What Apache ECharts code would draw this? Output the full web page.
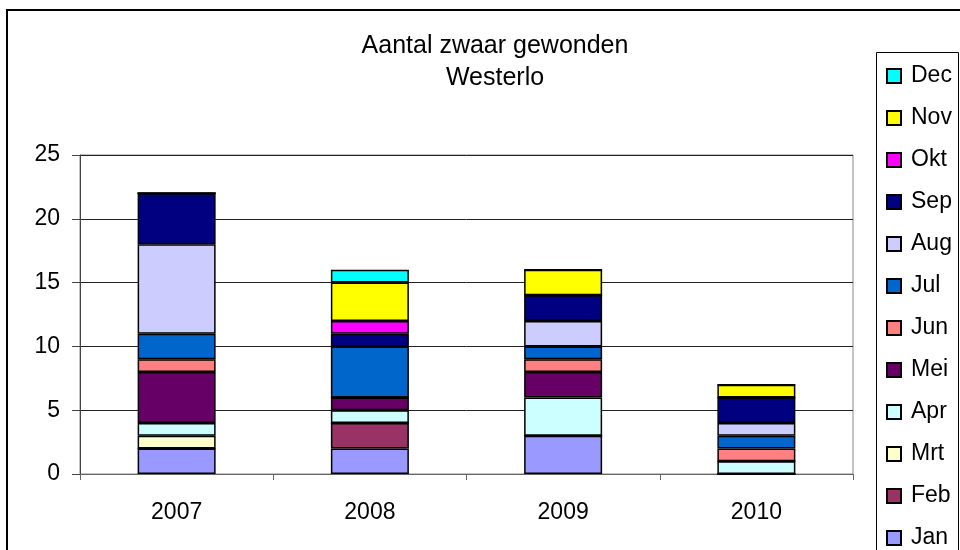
<!DOCTYPE html>
<html>
<head>
<meta charset="utf-8">
<title>Aantal zwaar gewonden - Westerlo</title>
<script src="https://cdn.jsdelivr.net/npm/echarts@6/dist/echarts.min.js"></script>
<style>
  html, body { margin: 0; padding: 0; background: #fff; }
  #chart { width: 960px; height: 550px; }
</style>
</head>
<body>
<div id="chart"></div>
<script>
// Years on the category axis
const years = ['2007', '2008', '2009', '2010'];

// Number of seriously injured per month, per year
const jan = [2, 2, 3, 0];
const feb = [0, 2, 0, 0];
const mrt = [1, 0, 0, 0];
const apr = [1, 1, 3, 1];
const mei = [4, 1, 2, 0];
const jun = [1, 0, 1, 1];
const jul = [2, 4, 1, 1];
const aug = [7, 0, 2, 1];
const sep = [4, 1, 2, 2];
const okt = [0, 1, 0, 0];
const nov = [0, 3, 2, 1];
const dec = [0, 1, 0, 0];

const monthNames = ['Jan', 'Feb', 'Mrt', 'Apr', 'Mei', 'Jun', 'Jul', 'Aug', 'Sep', 'Okt', 'Nov', 'Dec'];
const monthValues = [jan, feb, mrt, apr, mei, jun, jul, aug, sep, okt, nov, dec];
const monthColors = ['#9999FF', '#993366', '#FFFFCC', '#CCFFFF', '#660066', '#FF8080',
                     '#0066CC', '#CCCCFF', '#000080', '#FF00FF', '#FFFF00', '#00FFFF'];

// Y axis ticks
const yMin = 0, yMax = 25, yStep = 5;

const font = '"Liberation Sans", Arial, sans-serif';

const series = monthNames.map((name, i) => ({
  name: name,
  type: 'bar',
  stack: 'total',
  barWidth: 78,
  data: monthValues[i],
  itemStyle: { color: monthColors[i], borderColor: '#000', borderWidth: 1.5 },
  emphasis: { disabled: true }
}));

const chart = echarts.init(document.getElementById('chart'), null, { renderer: 'canvas' });
chart.setOption({
  animation: false,
  backgroundColor: '#fff',
  textStyle: { fontFamily: font },
  title: [
    { text: 'Aantal zwaar gewonden', left: 490, top: 29, textAlign: 'center',
      textStyle: { fontFamily: font, fontSize: 25, fontWeight: 'normal', color: '#000' } },
    { text: 'Westerlo', left: 490, top: 61, textAlign: 'center',
      textStyle: { fontFamily: font, fontSize: 25, fontWeight: 'normal', color: '#000' } }
  ],
  grid: { left: 80, right: 107, top: 155, bottom: 76, show: true, borderColor: '#888', borderWidth: 1, backgroundColor: 'transparent' },
  legend: {
    orient: 'vertical',
    left: 886,
    top: 64,
    height: 540,
    width: 80,
    padding: 0,
    icon: 'rect',
    itemWidth: 14,
    itemHeight: 14,
    itemGap: 18,
    data: monthNames.slice().reverse(),
    selectedMode: false,
    textStyle: { fontFamily: font, fontSize: 23, color: '#000', lineHeight: 24, padding: [0, 0, 0, 5] }
  },
  xAxis: {
    type: 'category',
    data: years,
    axisLine: { lineStyle: { color: '#666', width: 1 } },
    axisTick: { show: true, length: 6, lineStyle: { color: '#666' } },
    axisLabel: { color: '#000', fontSize: 23, margin: 27, fontFamily: font },
    splitLine: { show: false }
  },
  yAxis: {
    type: 'value',
    min: yMin,
    max: yMax,
    interval: yStep,
    axisLine: { show: true, lineStyle: { color: '#444', width: 1 } },
    axisTick: { show: true, length: 8, lineStyle: { color: '#444' } },
    axisLabel: { color: '#000', fontSize: 23, margin: 20, fontFamily: font },
    splitLine: { show: true, lineStyle: { color: '#222', width: 1 } }
  },
  graphic: [
    { type: 'rect', shape: { x: 7, y: 10, width: 1000, height: 600 },
      style: { fill: 'none', stroke: '#000', lineWidth: 2 }, silent: true },
    { type: 'rect', shape: { x: 876.5, y: 52.5, width: 82, height: 600 },
      style: { fill: 'none', stroke: '#000', lineWidth: 1 }, silent: true }
  ],
  series: series
});
</script>
</body>
</html>
